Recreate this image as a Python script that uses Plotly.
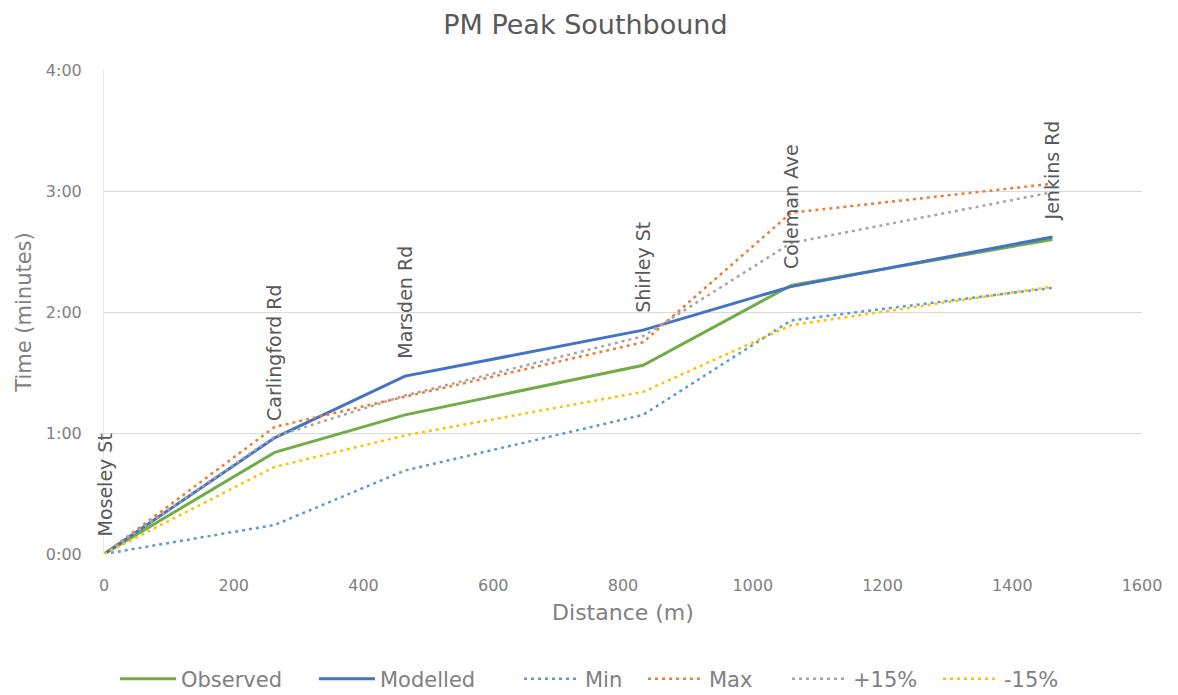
import plotly.graph_objects as go

# ---- data ----
stations = ["Moseley St", "Carlingford Rd", "Marsden Rd", "Shirley St", "Coleman Ave", "Jenkins Rd"]
distance = [0, 263, 464, 831, 1059, 1462]          # m
observed = [0, 0.84, 1.15, 1.56, 2.22, 2.60]       # minutes
modelled = [0, 0.96, 1.47, 1.85, 2.21, 2.62]
min_t    = [0, 0.24, 0.69, 1.15, 1.93, 2.20]
max_t    = [0, 1.05, 1.30, 1.75, 2.82, 3.06]
plus15   = [0, 0.97, 1.31, 1.80, 2.57, 2.99]
minus15  = [0, 0.72, 0.98, 1.34, 1.89, 2.21]
y_tickvals = [0, 1, 2, 3, 4]
y_ticktext = ["0:00", "1:00", "2:00", "3:00", "4:00"]
x_tickvals = [0, 200, 400, 600, 800, 1000, 1200, 1400, 1600]

FONT = "DejaVu Sans"
TXT = "#808080"

series = [
    ("Observed", observed, "#70AD47", "solid", 3),
    ("Modelled", modelled, "#4472C4", "solid", 3),
    ("Min", min_t, "#5B9BD5", "3px,4px", 2.5),
    ("Max", max_t, "#ED7D31", "3px,4px", 2.5),
    ("+15%", plus15, "#A5A5A5", "3px,4px", 2.5),
    ("-15%", minus15, "#FFC000", "3px,4px", 2.5),
]
# left edge (px) of each legend entry in the reference
legend_left = [121, 320, 525, 649, 793, 944]

fig = go.Figure()
legend_layout = {}
for i, ((name, vals, col, dash, w), lx) in enumerate(zip(series, legend_left)):
    key = "legend" if i == 0 else f"legend{i+1}"
    fig.add_trace(go.Scatter(x=distance, y=vals, name=name, mode="lines",
                             legend=key,
                             line=dict(color=col, width=w, dash=dash)))
    legend_layout[key] = dict(orientation="h", x=(lx - 6) / 1178, xref="container",
                              xanchor="left", y=1 - 679 / 695, yref="container",
                              yanchor="middle", bgcolor="rgba(0,0,0,0)",
                              font=dict(family=FONT, size=21, color=TXT),
                              itemwidth=56)

for s, x, y in zip(stations, distance, modelled):
    fig.add_annotation(x=x, y=y, text=s, textangle=-90, showarrow=False,
                       xanchor="center", yanchor="bottom", yshift=15,
                       font=dict(family=FONT, size=19, color="#595959"))

fig.update_layout(
    width=1178, height=695,
    margin=dict(l=104, r=36, t=70, b=141),
    paper_bgcolor="white", plot_bgcolor="white",
    font=dict(family=FONT, color=TXT),
    title=dict(text="PM Peak Southbound", x=0.497, xref="container", xanchor="center",
               y=1 - 25 / 695, yref="container", yanchor="middle",
               font=dict(family=FONT, size=27, color="#595959")),
    showlegend=True,
    **legend_layout,
)
fig.update_xaxes(range=[0, 1600], tickvals=x_tickvals, showgrid=False,
                 zeroline=False, showline=False, ticks="",
                 ticklabelstandoff=20,
                 tickfont=dict(family=FONT, size=16, color=TXT),
                 title=dict(text="Distance (m)", standoff=10,
                            font=dict(family=FONT, size=22, color=TXT)))
fig.update_yaxes(range=[0, 4], tickvals=y_tickvals, ticktext=y_ticktext,
                 showgrid=True, gridcolor="#d9d9d9", gridwidth=1,
                 zeroline=False, showline=True, linecolor="#e6e6e6", linewidth=1,
                 ticks="", ticklabelstandoff=18,
                 tickfont=dict(family=FONT, size=16, color=TXT),
                 title=dict(text="Time (minutes)", standoff=8,
                            font=dict(family=FONT, size=21, color=TXT)))

fig.write_html("out.html")
